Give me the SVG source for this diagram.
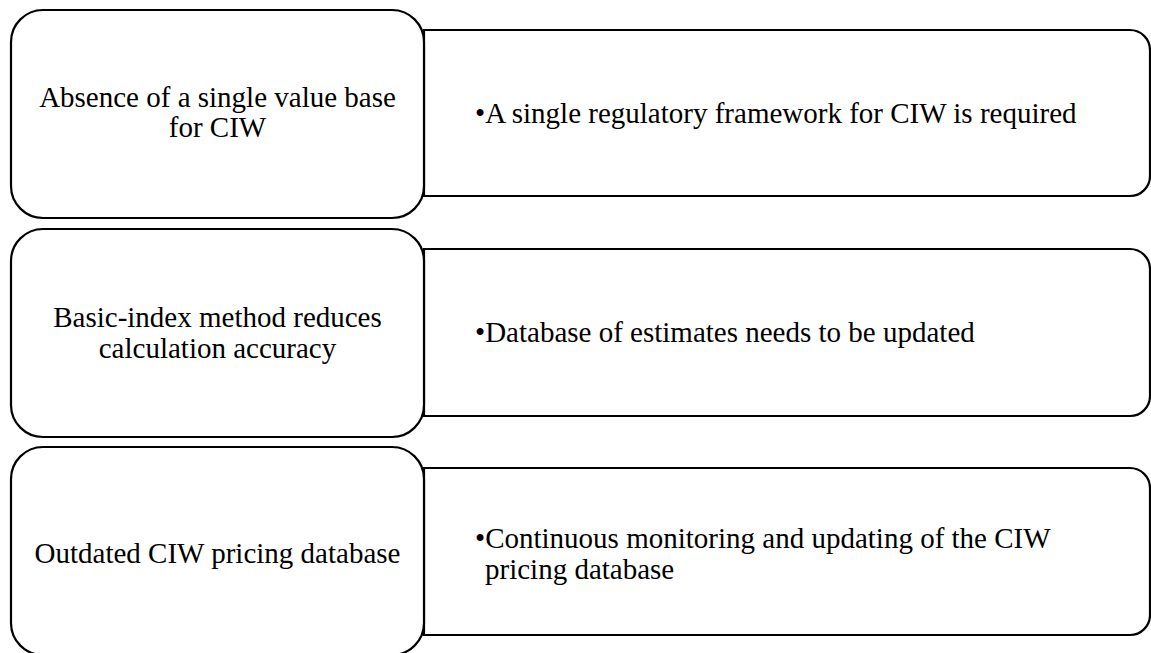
<svg xmlns="http://www.w3.org/2000/svg" width="1151" height="653" viewBox="0 0 1151 653">
  <style>
    .cause { fill: #ffffff; stroke: #000000; stroke-width: 2.2; }
    .action { fill: #ffffff; stroke: #000000; stroke-width: 2.2; }
    text { font-family: "Liberation Serif", "Times New Roman", serif; font-size: 29px; fill: #000000; }
    .c { text-anchor: middle; }
  </style>
  <rect width="1151" height="653" fill="#ffffff"/>

  <!-- row 1 -->
  <g id="action-1">
    <path class="action" d="M424,30 H1130 A20,20 0 0 1 1150,50 V176 A20,20 0 0 1 1130,196 H424 Z"/>
    <text x="475" y="123">•A single regulatory framework for CIW is required</text>
  </g>
  <g id="cause-1">
    <rect class="cause" x="11" y="10" width="413" height="208" rx="32" ry="32"/>
    <text class="c" x="217.5" y="107">Absence of a single value base</text>
    <text class="c" x="217.5" y="137">for CIW</text>
  </g>

  <!-- row 2 -->
  <g id="action-2">
    <path class="action" d="M424,249 H1130 A20,20 0 0 1 1150,269 V396 A20,20 0 0 1 1130,416 H424 Z"/>
    <text x="475" y="342">•Database of estimates needs to be updated</text>
  </g>
  <g id="cause-2">
    <rect class="cause" x="11" y="229" width="413" height="208" rx="32" ry="32"/>
    <text class="c" x="217.5" y="327">Basic-index method reduces</text>
    <text class="c" x="217.5" y="358">calculation accuracy</text>
  </g>

  <!-- row 3 -->
  <g id="action-3">
    <path class="action" d="M424,468 H1130 A20,20 0 0 1 1150,488 V615 A20,20 0 0 1 1130,635 H424 Z"/>
    <text x="475" y="548">•Continuous monitoring and updating of the CIW</text>
    <text x="485" y="579">pricing database</text>
  </g>
  <g id="cause-3">
    <rect class="cause" x="11" y="447" width="413" height="208" rx="32" ry="32"/>
    <text class="c" x="217.5" y="563">Outdated CIW pricing database</text>
  </g>

  <g id="connectors"></g>
</svg>
